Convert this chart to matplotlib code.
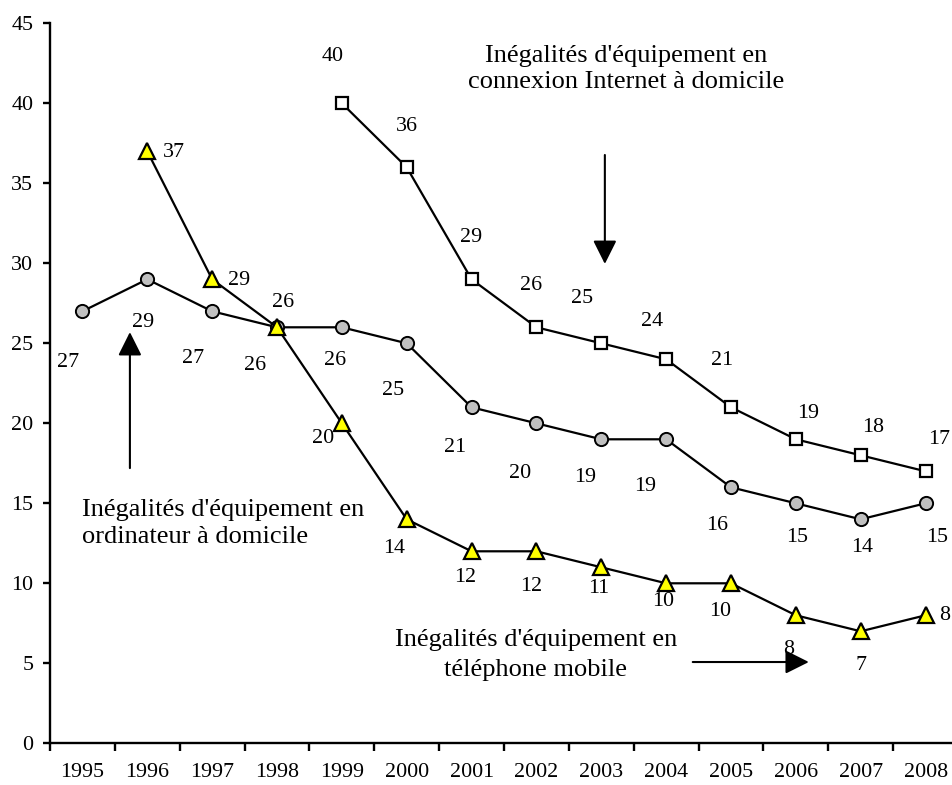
import numpy as np
import matplotlib
matplotlib.use("Agg")
import matplotlib.pyplot as plt
from matplotlib.patches import ArrowStyle

plt.rcParams['font.family'] = ['Liberation Serif', 'DejaVu Serif']

# ---------------- data ----------------
years = ['1995', '1996', '1997', '1998', '1999', '2000', '2001',
         '2002', '2003', '2004', '2005', '2006', '2007', '2008']
ordinateur = [27, 29, 27, 26, 26, 25, 21, 20, 19, 19, 16, 15, 14, 15]
internet = [None, None, None, None, 40, 36, 29, 26, 25, 24, 21, 19, 18, 17]
mobile = [None, 37, 29, 26, 20, 14, 12, 12, 11, 10, 10, 8, 7, 8]

label_ordinateur = "Inégalités d'équipement en\nordinateur à domicile"
label_internet = "Inégalités d'équipement en\nconnexion Internet à domicile"
label_mobile = "Inégalités d'équipement en\ntéléphone mobile"

# ---------------- label offsets (pixels, x right / y down) ----------------
off_ordinateur = [(-14, 51), (-4, 43), (-19, 47), (-22, 38), (-7, 33), (-14, 47),
                  (-17, 40), (-16, 50), (-16, 38), (-21, 47), (-14, 38), (1, 34),
                  (1, 28), (12, 34)]
off_internet = [None, None, None, None, (-9, -47), (0, -41), (-1, -42), (-5, -42),
                (-19, -45), (-14, -38), (-9, -47), (12, -26), (12, -28), (14, -32)]
off_mobile = [None, (27, 1), (27, 1), (6, -25), (-19, 15), (-13, 29), (-6, 26),
              (-5, 35), (-3, 21), (-3, 18), (-11, 28), (-7, 34), (0, 34), (19, 0)]

W, H = 953, 785
fig = plt.figure(figsize=(W / 100, H / 100), dpi=100)
ax = fig.add_axes([50 / W, (H - 743.3) / H, 908 / W, 720 / H])

x = np.arange(len(years))


def arr(v):
    return np.array([np.nan if a is None else a for a in v], dtype=float)


lw = 1.6
ax.plot(x, arr(ordinateur), color='black', lw=lw, marker='o', ms=9.5,
        mfc='#c0c0c0', mec='black', mew=1.4, zorder=3)
ax.plot(x, arr(internet), color='black', lw=lw, marker='s', ms=9,
        mfc='white', mec='black', mew=1.6, zorder=4)
ax.plot(x, arr(mobile), color='black', lw=lw, marker='^', ms=11,
        mfc='#ffff00', mec='black', mew=1.6, zorder=5)

fs = 15.8
for vals, offs in ((ordinateur, off_ordinateur), (internet, off_internet),
                   (mobile, off_mobile)):
    for i, (v, o) in enumerate(zip(vals, offs)):
        if v is None:
            continue
        ax.annotate(str(v), (i, v), xytext=(o[0], -o[1]),
                    textcoords='offset pixels', ha='center', va='center',
                    fontsize=fs, zorder=6)

ax.set_xlim(-0.5, 13.5)
ax.set_ylim(0, 45)

for s in ('top', 'right'):
    ax.spines[s].set_visible(False)
for s in ('left', 'bottom'):
    ax.spines[s].set_linewidth(1.7)

ax.set_yticks(np.arange(0, 46, 5))
ax.tick_params(axis='y', direction='out', length=5, width=1.7, pad=7,
               labelsize=fs)
ax.set_xticks(x)
ax.set_xticklabels(years)
ax.tick_params(axis='x', which='major', length=0, pad=14, labelsize=fs)
ax.set_xticks(np.arange(-0.5, 13.0, 1.0), minor=True)
ax.tick_params(axis='x', which='minor', direction='out', length=6, width=1.7)

# annotations
afs = 19
ax.text(8.38, 42.15, label_internet, ha='center', va='center',
        fontsize=afs, linespacing=1.2)
ax.text(-0.01, 13.74, label_ordinateur, ha='left', va='center',
        fontsize=afs, linespacing=1.25)
ax.text(6.99, 5.5, label_mobile, ha='center', va='center',
        fontsize=afs, linespacing=1.45)

style = ArrowStyle('-|>', head_length=14.4, head_width=7.2)
ap = dict(arrowstyle=style, mutation_scale=1, color='black', lw=1.5,
          shrinkA=0, shrinkB=0)
ax.annotate('', xy=(8.055, 29.96), xytext=(8.055, 36.77), arrowprops=ap)
ax.annotate('', xy=(0.732, 25.7), xytext=(0.732, 17.2), arrowprops=ap)
ax.annotate('', xy=(11.2, 5.08), xytext=(9.41, 5.08), arrowprops=ap)

fig.savefig('out.png', dpi=100)
